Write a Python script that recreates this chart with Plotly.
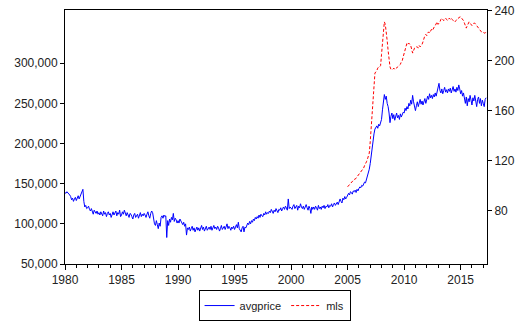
import plotly.graph_objects as go

# avgprice monthly, Jan 1980 .. Apr 2017 (thousands)
avgprice_k = [
    139, 138, 140, 139, 137, 136, 134, 130, 132, 128, 131, 133,  # 1980
    129, 133, 135, 131, 134, 136, 138, 143, 128, 121, 123, 119,  # 1981
    120, 122, 118, 116, 119, 114, 112, 117, 115, 113, 116, 112,  # 1982
    114, 111, 115, 113, 110, 116, 112, 114, 109, 113, 115, 111,  # 1983
    113, 108, 112, 115, 111, 113, 116, 110, 114, 112, 117, 109,  # 1984
    111, 115, 112, 117, 113, 110, 114, 111, 108, 113, 112, 109,  # 1985
    106, 111, 113, 108, 110, 112, 107, 111, 114, 109, 112, 110,  # 1986
    113, 111, 108, 112, 115, 110, 107, 113, 116, 114, 104, 100,  # 1987
    98, 104, 99, 94, 101, 97, 108, 110, 107, 111, 109, 110,      # 1988
    83, 104, 98, 106, 102, 108, 105, 113, 103, 107, 105, 101,    # 1989
    104, 101, 106, 103, 100, 99, 102, 97, 100, 86, 95, 93,       # 1990
    96, 91, 94, 97, 92, 95, 90, 93, 96, 92, 95, 91,              # 1991
    94, 98, 93, 96, 91, 95, 97, 92, 94, 96, 93, 97,              # 1992
    92, 95, 98, 94, 96, 93, 97, 95, 91, 94, 98, 93,              # 1993
    95, 97, 93, 96, 100, 94, 97, 95, 92, 96, 94, 97,             # 1994
    93, 96, 99, 95, 102, 94, 92, 90, 95, 97, 90, 96,             # 1995
    95, 98, 101, 99, 103, 100, 104, 102, 106, 104, 108, 106,     # 1996
    109, 107, 111, 108, 112, 110, 109, 113, 111, 115, 112, 114,  # 1997
    113, 116, 114, 118, 115, 113, 117, 115, 119, 116, 114, 118,  # 1998
    117, 120, 116, 119, 121, 118, 122, 120, 117, 131, 119, 121,  # 1999
    120, 118, 122, 124, 119, 121, 123, 117, 122, 120, 125, 121,  # 2000
    119, 122, 118, 121, 124, 120, 117, 122, 119, 113, 121, 118,  # 2001
    121, 118, 122, 120, 117, 123, 119, 121, 118, 122, 120, 123,  # 2002
    119, 122, 121, 124, 120, 123, 122, 125, 121, 124, 126, 123,  # 2003
    125, 127, 124, 129, 131, 128, 126, 132, 130, 134, 131, 133,  # 2004
    135, 138, 136, 140, 139, 137, 141, 140, 142, 139, 143, 141,  # 2005
    144, 146, 145, 148, 147, 150, 152, 151, 155, 158, 162, 168,  # 2006
    175, 185, 198, 205, 212, 218, 221, 222, 219, 224, 222, 226,  # 2007
    230, 242, 252, 261, 255, 259, 250, 246, 238, 226, 234, 238,  # 2008
    231, 236, 229, 234, 238, 232, 235, 230, 237, 233, 236, 239,  # 2009
    238, 244, 241, 246, 243, 250, 247, 254, 249, 260, 252, 243,  # 2010
    241, 247, 252, 246, 250, 255, 249, 253, 248, 252, 256, 250,  # 2011
    254, 259, 255, 262, 257, 260, 256, 261, 258, 263, 259, 266,  # 2012
    268, 275, 266, 263, 268, 262, 266, 270, 264, 267, 263, 268,  # 2013
    265, 269, 263, 267, 271, 265, 268, 264, 270, 266, 273, 268,  # 2014
    262, 266, 259, 263, 255, 250, 258, 247, 256, 252, 260, 254,  # 2015
    248, 257, 253, 260, 251, 246, 255, 258, 250, 256, 247, 254,  # 2016
    250, 246, 255, 257,                                          # 2017
]

# mls monthly, Jan 2005 .. Apr 2017 (right axis)
mls = [
    99, 100, 101, 102, 103, 103, 104, 105, 105, 106, 107, 108,   # 2005
    109, 110, 111, 112, 113, 114, 116, 117, 119, 121, 123, 126,  # 2006
    135, 148, 160, 172, 185, 190, 191, 192, 194, 195, 195, 196,  # 2007
    205, 214, 224, 231, 229, 224, 216, 208, 200, 195, 193, 193,  # 2008
    193, 194, 193, 194, 194, 195, 196, 196, 197, 199, 200, 203,  # 2009
    206, 210, 213, 214, 213, 214, 213, 212, 209, 206, 208, 210,  # 2010
    210, 211, 211, 210, 212, 211, 212, 213, 215, 218, 220, 221,  # 2011
    220, 222, 223, 222, 224, 225, 224, 226, 227, 228, 230, 231,  # 2012
    229, 230, 231, 233, 234, 233, 232, 233, 234, 233, 232, 233,  # 2013
    234, 233, 234, 233, 232, 232, 231, 232, 233, 234, 234, 235,  # 2014
    235, 234, 233, 232, 230, 227, 226, 228, 230, 231, 230, 229,  # 2015
    228, 229, 230, 230, 229, 228, 227, 226, 225, 224, 223, 223,  # 2016
    223, 222, 222, 223,                                          # 2017
]

avg_start_year = 1980
mls_start_year = 2005

left_ticks = [50000, 100000, 150000, 200000, 250000, 300000]
left_labels = ["50,000", "100,000", "150,000", "200,000", "250,000", "300,000"]
right_ticks = [80, 120, 160, 200, 240]
x_ticks = [1980, 1985, 1990, 1995, 2000, 2005, 2010, 2015]

avg_x = [avg_start_year + i / 12 for i in range(len(avgprice_k))]
avg_y = [v * 1000 for v in avgprice_k]
mls_x = [mls_start_year + i / 12 for i in range(len(mls))]

fig = go.Figure()
fig.add_trace(go.Scatter(x=avg_x, y=avg_y, mode="lines", name="avgprice",
                         line=dict(color="#0000FF", width=1)))
fig.add_trace(go.Scatter(x=mls_x, y=mls, mode="lines", name="mls", yaxis="y2",
                         line=dict(color="#FF0000", width=1, dash="3px,2px")))

font = dict(family="Liberation Sans, Arial, sans-serif", size=12, color="#222222")
legend_font = dict(family="Liberation Sans, Arial, sans-serif", size=11, color="#222222")

fig.update_layout(
    width=521, height=323,
    margin=dict(l=65, r=34, t=10, b=59, autoexpand=False),
    paper_bgcolor="white", plot_bgcolor="white",
    font=font,
    showlegend=True,
    legend=dict(orientation="h", xref="container", yref="container",
                x=0.527, xanchor="center", y=0.006, yanchor="bottom",
                bordercolor="#000000", borderwidth=1, font=legend_font,
                itemwidth=30, tracegroupgap=0),
    xaxis=dict(range=[1980, 2017.33], tickvals=x_ticks, ticktext=[str(t) for t in x_ticks],
               ticks="outside", ticklen=5, tickcolor="#000", showline=True, linecolor="#000",
               linewidth=1, mirror=True, showgrid=False, zeroline=False, automargin=False,
               minor=dict(dtick=1, tick0=1980, ticks="outside", ticklen=3, tickcolor="#000")),
    yaxis=dict(range=[50000, 366300], tickvals=left_ticks, ticktext=left_labels,
               ticks="outside", ticklen=4, tickcolor="#000", showline=True, linecolor="#000",
               linewidth=1, showgrid=False, zeroline=False, automargin=False),
    yaxis2=dict(range=[37.2, 240.5], tickvals=right_ticks, overlaying="y", side="right",
                ticks="outside", ticklen=4, tickcolor="#000", showline=True, linecolor="#000",
                linewidth=1, showgrid=False, zeroline=False, automargin=False),
)

fig.write_html("out.html", config={"displayModeBar": False},
               post_script="document.body.style.margin='0';document.body.style.overflow='hidden';")
